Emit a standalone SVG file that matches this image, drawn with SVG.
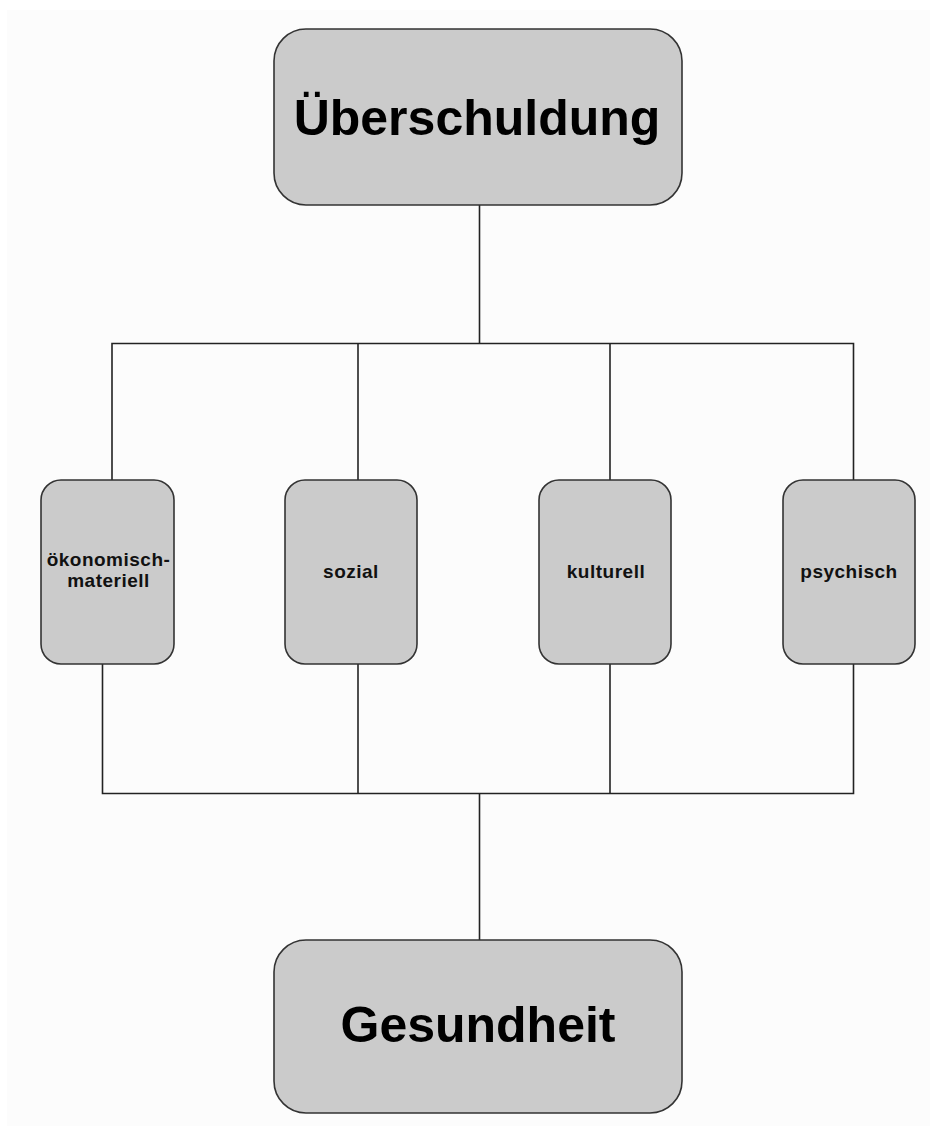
<svg xmlns="http://www.w3.org/2000/svg" width="930" height="1126" viewBox="0 0 930 1126">
<style>
.box{fill:#cbcbcb;stroke:#333;stroke-width:1.6}
.big{font-family:"Liberation Sans",Arial,sans-serif;font-weight:bold;font-size:50px;fill:#000;text-anchor:middle}
.small{font-family:"Liberation Sans",Arial,sans-serif;font-weight:bold;font-size:19px;letter-spacing:0.5px;fill:#111;text-anchor:middle}
.conn{fill:none;stroke:#222;stroke-width:1.6}
</style>
<rect x="0" y="0" width="930" height="1126" fill="#ffffff"/>
<rect x="7" y="10" width="923" height="1116" fill="#fcfcfc"/>
<g id="connectors" class="conn">
<path d="M479.5 205 V343.5"/>
<path d="M112 480 V343.5 H853.5 V480"/>
<path d="M358 343.5 V480"/>
<path d="M610 343.5 V480"/>
<path d="M102.5 664 V793.5 H853.5 V664"/>
<path d="M358 664 V793.5"/>
<path d="M610 664 V793.5"/>
<path d="M479.5 793.5 V940"/>
</g>
<g id="ueberschuldung">
<rect class="box" x="274" y="29" width="408" height="176" rx="32" ry="32"/>
<text class="big" x="477" y="135">Überschuldung</text>
</g>
<g id="oekonomisch">
<rect class="box" x="41" y="480" width="133" height="184" rx="20" ry="20"/>
<text class="small" x="108.5" y="566">ökonomisch-</text>
<text class="small" x="108.5" y="587">materiell</text>
</g>
<g id="sozial">
<rect class="box" x="285" y="480" width="132" height="184" rx="20" ry="20"/>
<text class="small" x="351" y="578">sozial</text>
</g>
<g id="kulturell">
<rect class="box" x="539" y="480" width="132" height="184" rx="20" ry="20"/>
<text class="small" x="606" y="578">kulturell</text>
</g>
<g id="psychisch">
<rect class="box" x="783" y="480" width="132" height="184" rx="20" ry="20"/>
<text class="small" x="849" y="578">psychisch</text>
</g>
<g id="gesundheit">
<rect class="box" x="274" y="940" width="408" height="173" rx="32" ry="32"/>
<text class="big" x="478" y="1042">Gesundheit</text>
</g>
</svg>
